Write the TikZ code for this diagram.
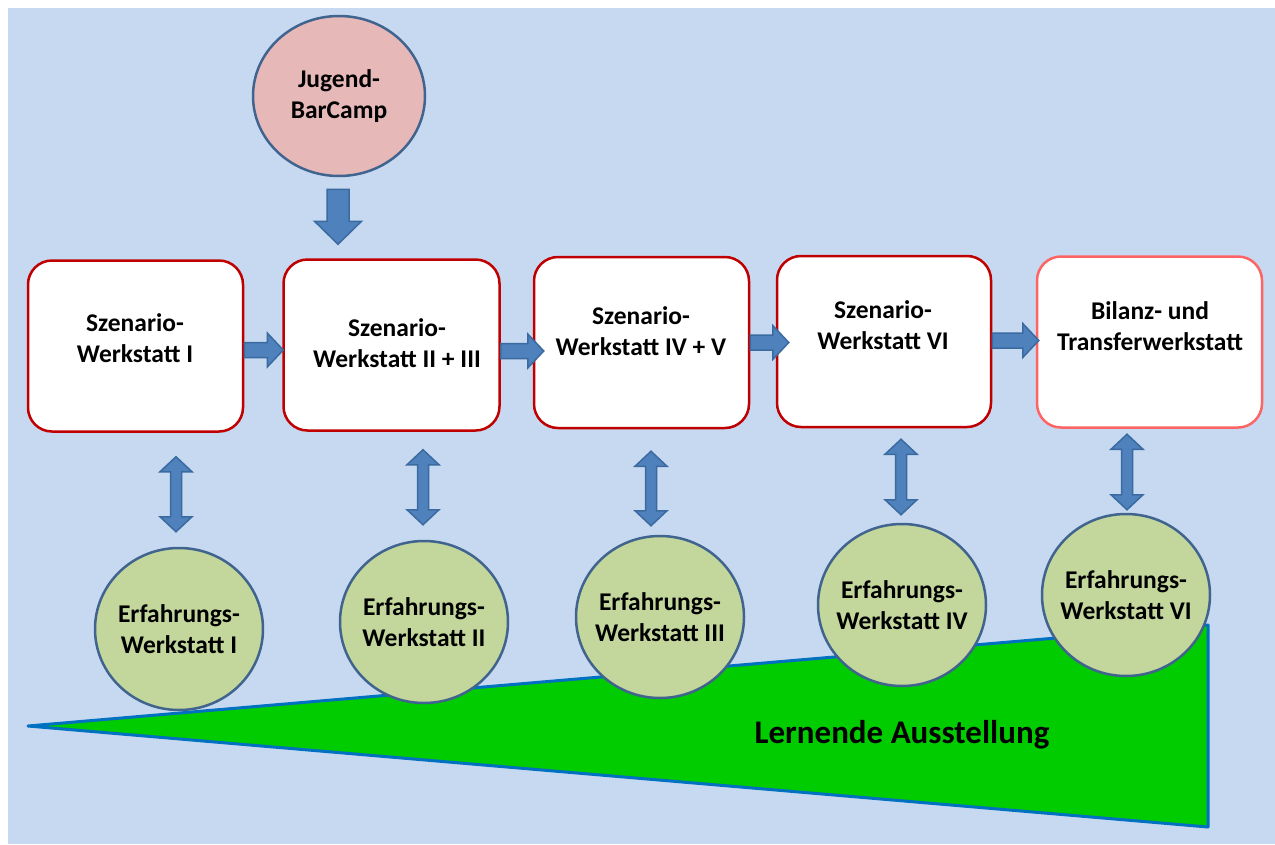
\documentclass[tikz,border=0pt]{standalone}
\usepackage{fontspec}
\setmainfont{Carlito}
\usepackage{tikz}
\usetikzlibrary{calc}
\usetikzlibrary{positioning}
\usetikzlibrary{shapes.geometric}

\definecolor{bgblue}{HTML}{C6D9F1}
\definecolor{boxred}{HTML}{C00000}
\definecolor{boxlight}{HTML}{FF6464}
\definecolor{arrowfill}{HTML}{4F81BD}
\definecolor{arrowline}{HTML}{3B6AA0}
\definecolor{circline}{HTML}{41648F}
\definecolor{campfill}{HTML}{E6B9B8}
\definecolor{erfgreen}{HTML}{C3D69B}
\definecolor{wedgegreen}{HTML}{00CC00}
\definecolor{wedgeline}{HTML}{0070C0}

% block arrows, built from two points
\newcommand{\hblock}[2]{%
  \draw[blockarrow] let \p1=(#1), \p2=(#2) in
    (\x1,\y1-7.5) -- (\x2-16,\y1-7.5) -- (\x2-16,\y1-17) -- (\x2,\y1)
    -- (\x2-16,\y1+17) -- (\x2-16,\y1+7.5) -- (\x1,\y1+7.5) -- cycle;}
\newcommand{\vblock}[2]{%
  \draw[blockarrow] let \p1=(#1), \p2=(#2) in
    (\x1,\y1) -- (\x1+16,\y1-15) -- (\x1+5.5,\y1-15) -- (\x1+5.5,\y2+15)
    -- (\x1+16,\y2+15) -- (\x1,\y2) -- (\x1-16,\y2+15) -- (\x1-5.5,\y2+15)
    -- (\x1-5.5,\y1-15) -- (\x1-16,\y1-15) -- cycle;}
\newcommand{\dblock}[2]{%
  \draw[blockarrow] let \p1=(#1), \p2=(#2) in
    (\x1-11,\y1) -- (\x1-11,\y2+23) -- (\x1-23.5,\y2+23) -- (\x1,\y2)
    -- (\x1+23.5,\y2+23) -- (\x1+11,\y2+23) -- (\x1+11,\y1) -- cycle;}

\begin{document}
\begin{tikzpicture}
	[
	x=1pt, y=-1pt,
	every node/.style = {font=\fontsize{25.5}{31}\selectfont\bfseries, align=center},
	szbox/.style = {draw=boxred, line width=2.5pt, fill=white, rounded corners=24pt, minimum width=215pt, minimum height=171pt},
	erf/.style = {ellipse, draw=circline, line width=2.5pt, fill=erfgreen, minimum width=168pt, minimum height=162pt, inner xsep=-25pt, inner ysep=0pt},
	blockarrow/.style = {draw=arrowline, line width=1.5pt, fill=arrowfill, line join=miter}
	]
	\useasboundingbox (0,0) rectangle (1275,844);
	\fill[bgblue] (8,8) rectangle (1275,844);
	% Ausstellung
	\filldraw[fill=wedgegreen, draw=wedgeline, line width=3pt, line join=round] (28,726) -- (1208,625) -- (1208,827) -- cycle;
	\node[font=\fontsize{33}{40}\selectfont\bfseries] (aus) at (902,735) {Lernende Ausstellung};
	% BarCamp
	\node[ellipse, draw=circline, line width=2.5pt, fill=campfill, minimum width=172pt, minimum height=160pt, inner xsep=-10pt, inner ysep=0pt] (camp) at (339,96) {Jugend-\\BarCamp};
	% Szenario-Werkstaetten
	\node[szbox] (sz1) at (135.5,346) {};
	\node[szbox, minimum width=216pt] (sz2) at (391.5,345) {};
	\node[szbox] (sz3) at (641.5,342.5) {};
	\node[szbox, minimum width=214pt] (sz4) at (884,341.5) {};
	\node[szbox, draw=boxlight, minimum width=225pt] (sz5) at (1149.5,342) {};
	\node (t1) at (135,338) {Szenario-\\Werkstatt I};
	\node (t2) at (397,343) {Szenario-\\Werkstatt II + III};
	\node (t3) at (641,331) {Szenario-\\Werkstatt IV + V};
	\node (t4) at (883,325) {Szenario-\\Werkstatt VI};
	\node (t5) at (1150,326) {Bilanz- und\\Transferwerkstatt};
	% Erfahrungs-Werkstaetten
	\node[erf] (e1) at (179,629) {Erfahrungs-\\Werkstatt I};
	\node[erf] (e2) at (424,622) {Erfahrungs-\\Werkstatt II};
	\node[erf] (e3) at (660,617) {Erfahrungs-\\Werkstatt III};
	\node[erf] (e4) at (902,605) {Erfahrungs-\\Werkstatt IV};
	\node[erf] (e5) at (1126,595) {Erfahrungs-\\Werkstatt VI};
	% arrows
	\dblock{[xshift=-1pt,yshift=-12pt]camp.south}{[yshift=14pt]sz2.north}
	\hblock{[yshift=-4pt]sz1.east}{[xshift=1pt]sz2.west}
	\hblock{[yshift=-6pt]sz2.east}{[xshift=11pt]sz3.west}
	\hblock{[yshift=0pt]sz3.east}{[xshift=13pt]sz4.west}
	\hblock{[yshift=1pt]sz4.east}{[xshift=3pt]sz5.west}
	\vblock{[xshift=40.5pt,yshift=-24pt]sz1.south}{[yshift=15pt]e1.north}
	\vblock{[xshift=31.5pt,yshift=-18pt]sz2.south}{[yshift=15pt]e2.north}
	\vblock{[xshift=9.5pt,yshift=-22pt]sz3.south}{[yshift=9pt]e3.north}
	\vblock{[xshift=17pt,yshift=-11pt]sz4.south}{[yshift=8pt]e4.north}
	\vblock{[xshift=-22.5pt,yshift=-5.5pt]sz5.south}{[yshift=3pt]e5.north}
\end{tikzpicture}
\end{document}
